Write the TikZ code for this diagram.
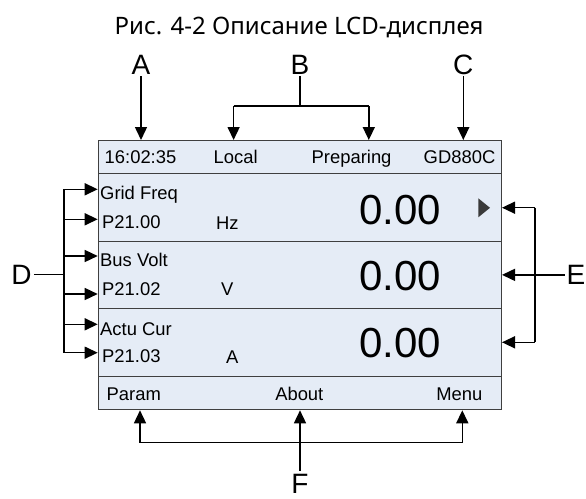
\documentclass[tikz,border=0pt]{standalone}
\usepackage{fontspec}
\setmainfont{Liberation Sans}
\newfontfamily\titlefont{Noto Sans}
\usetikzlibrary{arrows.meta}
\definecolor{LcdFill}{HTML}{E5ECF6}
\definecolor{LcdLine}{HTML}{3F3F3F}
\definecolor{MarkGray}{HTML}{3A3A3A}

\begin{document}
\begin{tikzpicture}[
        x=1pt, y=-1pt,
        lcdrow/.style={
            draw=LcdLine,
            fill=LcdFill,
            line width=1pt,
            minimum width=403.3pt,
            inner sep=0pt,
            anchor=north west
        },
        lbl/.style={font=\fontsize{18.4}{20}\selectfont, inner sep=0pt, anchor=base west},
        val/.style={font=\fontsize{42}{46}\selectfont, inner sep=0pt, anchor=base east},
        tag/.style={font=\fontsize{28}{30}\selectfont, inner sep=0pt, anchor=base},
        arr/.style={-{Triangle[length=13pt,width=12pt]}, line width=1.5pt},
        link/.style={line width=1.5pt}
    ]
        \useasboundingbox (0,0) rectangle (586,498);
        \node[font=\titlefont\fontsize{24}{28}\selectfont, inner sep=0pt, anchor=base] (title) at (299,34) {Рис. 4-2 Описание LCD-дисплея};

        % LCD panel
        \node[lcdrow, minimum height=32.7pt] (hdr) at (97.7,140) {};
        \node[lcdrow, minimum height=68pt] (row1) at (97.7,172.7) {};
        \node[lcdrow, minimum height=67.6pt] (row2) at (97.7,240.7) {};
        \node[lcdrow, minimum height=67.4pt] (row3) at (97.7,308.3) {};
        \node[lcdrow, minimum height=33.6pt] (foot) at (97.7,375.7) {};

        \node[lbl] (clock) at (104.5,163) {16:02:35};
        \node[lbl] (local) at (213.5,163) {Local};
        \node[lbl] (state) at (311.5,163) {Preparing};
        \node[lbl, anchor=base east] (model) at (495.5,163) {GD880C};

        \node[lbl] (gfreq) at (100,199.5) {Grid Freq};
        \node[lbl] (p2100) at (102,228.3) {P21.00};
        \node[lbl] (uhz) at (216,229.3) {Hz};
        \node[val] (v1) at (441,224) {0.00};
        \fill[MarkGray] (478.3,198.3) -- (490,207.8) -- (478.3,217.3) -- cycle;

        \node[lbl] (bvolt) at (100,266.7) {Bus Volt};
        \node[lbl] (p2102) at (102,295) {P21.02};
        \node[lbl] (uv) at (221,295) {V};
        \node[val] (v2) at (441,290) {0.00};

        \node[lbl] (acur) at (100,335) {Actu Cur};
        \node[lbl] (p2103) at (102,362.7) {P21.03};
        \node[lbl] (ua) at (226,363.3) {A};
        \node[val] (v3) at (441,357) {0.00};

        \node[lbl] (kparam) at (106.5,400) {Param};
        \node[lbl, anchor=base] (kabout) at (299.3,400) {About};
        \node[lbl, anchor=base east] (kmenu) at (482.5,400) {Menu};

        % callout letters
        \node[tag] (tA) at (141,74) {A};
        \node[tag] (tB) at (300,74) {B};
        \node[tag] (tC) at (463.3,74) {C};
        \node[tag] (tD) at (21.5,284.3) {D};
        \node[tag, anchor=base west] (tE) at (566.5,284.5) {E};
        \node[tag] (tF) at (300,493) {F};

        % A, B, C
        \draw[arr] ([yshift=-2pt]tA.south) -- (tA.south |- hdr.north);
        \coordinate (bL) at (233.6,106);
        \coordinate (bR) at (368.8,106);
        \draw[link] ([yshift=-2pt]tB.south) -- (tB.south |- bL);
        \draw[link] (bL) -- (bR);
        \draw[arr] (bL) -- (bL |- hdr.north);
        \draw[arr] (bR) -- (bR |- hdr.north);
        \draw[arr] ([yshift=-2pt]tC.south) -- (tC.south |- hdr.north);

        % D
        \coordinate (d1) at (64,189.3);
        \coordinate (d2) at (64,219.3);
        \coordinate (d3) at (64,256);
        \coordinate (d4) at (64,294);
        \coordinate (d5) at (64,324.3);
        \coordinate (d6) at (64,352.7);
        \draw[link] (d1) -- (d6);
        \draw[link] ([xshift=2pt]tD.east) -- (tD.east -| d1);
        \foreach \i in {1,...,6}
            \draw[arr] (d\i) -- (d\i -| row1.west);

        % E
        \coordinate (e1) at (535,207.7);
        \coordinate (e3) at (535,342.3);
        \draw[link] (e1) -- (e3);
        \draw[arr] (e1) -- (e1 -| row1.east);
        \draw[arr] (e3) -- (e3 -| row3.east);
        \draw[arr] ([xshift=-2pt]tE.west) -- (tE.west -| row2.east);

        % F
        \coordinate (fL) at (140,442.7);
        \coordinate (fR) at (462.3,442.7);
        \draw[link] (fL) -- (fR);
        \draw[arr] (fL) -- (fL |- foot.south);
        \draw[arr] (fR) -- (fR |- foot.south);
        \draw[arr] ([yshift=3pt]tF.north) -- (tF.north |- foot.south);
    \end{tikzpicture}
\end{document}
